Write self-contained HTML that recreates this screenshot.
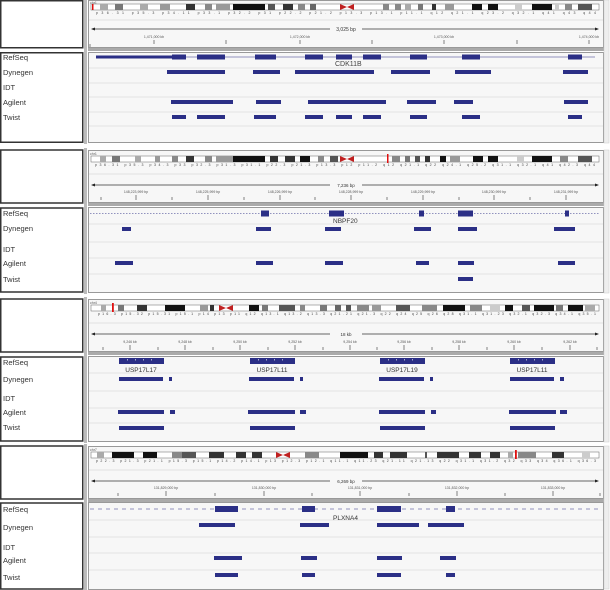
<!DOCTYPE html>
<html><head><meta charset="utf-8"><style>
body{margin:0;background:#fff;}
svg{display:block;font-family:"Liberation Sans",sans-serif;}
.lb{font-size:7.5px;fill:#333;}
.tk{font-size:3.5px;fill:#555;}
.il{font-size:3.5px;fill:#444;}
.b{fill:#2b2f86;}
.rl{stroke:#dcdcdc;stroke-width:0.8;}
</style></head><body>
<svg width="610" height="590" viewBox="0 0 610 590" xmlns="http://www.w3.org/2000/svg">
<rect width="610" height="590" fill="#fff"/>

<!-- ============ PANEL 1 ============ -->
<g>
<rect x="0.75" y="0.75" width="82" height="47" fill="#fff" stroke="#333" stroke-width="1.5"/>
<rect x="0.75" y="52.75" width="82" height="89.5" fill="#fff" stroke="#333" stroke-width="1.5"/>
<rect x="84" y="0" width="3" height="144" fill="#bbb"/>
<rect x="88.5" y="0.5" width="515" height="47" fill="#f7f7f7" stroke="#999"/>
<rect x="88" y="48" width="516" height="3" fill="#aaa"/>
<rect x="88.5" y="52.5" width="515" height="90" fill="#f7f7f7" stroke="#999"/>
<rect x="604" y="0" width="5" height="143" fill="#eee" stroke="#ccc" stroke-width="0.5"/>
<text class="tk" x="90" y="4">chr1</text>
<rect x="91" y="4" width="508" height="6" fill="#fff" stroke="#666" stroke-width="0.5"/>
<rect x="92" y="4" width="1.5" height="6" fill="#e01010"/>
<rect x="100" y="4" width="8" height="6" fill="#aaa"/><rect x="115" y="4" width="8" height="6" fill="#777"/>
<rect x="140" y="4" width="8" height="6" fill="#aaa"/><rect x="160" y="4" width="10" height="6" fill="#999"/>
<rect x="186" y="4" width="9" height="6" fill="#333"/><rect x="205" y="4" width="7" height="6" fill="#888"/>
<rect x="216" y="4" width="14" height="6" fill="#999"/><rect x="233" y="4" width="32" height="6" fill="#111"/>
<rect x="268" y="4" width="7" height="6" fill="#555"/><rect x="283" y="4" width="10" height="6" fill="#333"/>
<rect x="298" y="4" width="7" height="6" fill="#888"/><rect x="310" y="4" width="6" height="6" fill="#666"/>
<polygon points="340,4 347,7 354,4 354,10 347,7 340,10" fill="#c02020"/>
<rect x="383" y="4" width="6" height="6" fill="#888"/><rect x="395" y="4" width="6" height="6" fill="#888"/>
<rect x="405" y="4" width="6" height="6" fill="#aaa"/><rect x="418" y="4" width="5" height="6" fill="#777"/>
<rect x="432" y="4" width="4" height="6" fill="#333"/><rect x="445" y="4" width="9" height="6" fill="#999"/>
<rect x="472" y="4" width="10" height="6" fill="#111"/><rect x="488" y="4" width="10" height="6" fill="#111"/>
<rect x="515" y="4" width="7" height="6" fill="#ccc"/><rect x="532" y="4" width="20" height="6" fill="#111"/>
<rect x="555" y="4" width="4" height="6" fill="#ccc"/><rect x="565" y="4" width="7" height="6" fill="#888"/>
<rect x="578" y="4" width="14" height="6" fill="#555"/>
<text class="il" x="96" y="14" textLength="500" lengthAdjust="spacing">p36.31 p35.3 p34.11 p33.1 p32.2 p31 p22.2 p21.2 p13.3 p13.1 p11.1 q12 q21.1 q23.2 q32.1 q41 q43 q44</text>
<line x1="89" y1="20" x2="603" y2="20" stroke="#e2e2e2"/>
<line x1="92" y1="29" x2="330" y2="29" stroke="#333" stroke-width="0.7"/>
<line x1="362" y1="29" x2="596" y2="29" stroke="#333" stroke-width="0.7"/>
<polygon points="91,29 95,27.5 95,30.5" fill="#222"/><polygon points="599,29 595,27.5 595,30.5" fill="#222"/>
<text x="346" y="31" font-size="5" fill="#333" text-anchor="middle">3,025 bp</text>
<g class="tk" text-anchor="middle"><text x="154" y="38">1,471,000 kb</text><text x="300" y="38">1,472,000 kb</text><text x="444" y="38">1,473,000 kb</text><text x="589" y="38">1,474,000 kb</text></g>
<g stroke="#333" stroke-width="0.6"><line x1="154" y1="40" x2="154" y2="44"/><line x1="226" y1="40" x2="226" y2="44"/><line x1="300" y1="40" x2="300" y2="44"/><line x1="372" y1="40" x2="372" y2="44"/><line x1="444" y1="40" x2="444" y2="44"/><line x1="517" y1="40" x2="517" y2="44"/><line x1="589" y1="40" x2="589" y2="44"/><line x1="90" y1="44" x2="90" y2="47"/></g>
<g class="rl"><line x1="89" y1="68" x2="603" y2="68"/><line x1="89" y1="83" x2="603" y2="83"/><line x1="89" y1="97" x2="603" y2="97"/><line x1="89" y1="112" x2="603" y2="112"/><line x1="89" y1="126" x2="603" y2="126"/></g>
<g class="lb"><text x="3" y="60">RefSeq</text><text x="3" y="75">Dynegen</text><text x="3" y="90">IDT</text><text x="3" y="105">Agilent</text><text x="3" y="120">Twist</text></g>
<line x1="96" y1="57" x2="595" y2="57" stroke="#2b2f86" stroke-width="0.6"/>
<rect class="b" x="96" y="55.5" width="76" height="3"/>
<g class="b"><rect x="172" y="54.5" width="14" height="5"/><rect x="197" y="54.5" width="28" height="5"/><rect x="255" y="54.5" width="21" height="5"/><rect x="305" y="54.5" width="18" height="5"/><rect x="336" y="54.5" width="16" height="5"/><rect x="363" y="54.5" width="18" height="5"/><rect x="410" y="54.5" width="17" height="5"/><rect x="462" y="54.5" width="18" height="5"/><rect x="568" y="54.5" width="14" height="5"/></g>
<text x="335" y="66" font-size="7" fill="#444">CDK11B</text>
<g class="b"><rect x="167" y="70" width="58" height="4"/><rect x="253" y="70" width="27" height="4"/><rect x="295" y="70" width="79" height="4"/><rect x="391" y="70" width="39" height="4"/><rect x="455" y="70" width="36" height="4"/><rect x="563" y="70" width="25" height="4"/>
<rect x="171" y="100" width="62" height="4"/><rect x="256" y="100" width="25" height="4"/><rect x="308" y="100" width="78" height="4"/><rect x="407" y="100" width="29" height="4"/><rect x="454" y="100" width="19" height="4"/><rect x="564" y="100" width="24" height="4"/>
<rect x="172" y="115" width="14" height="4"/><rect x="197" y="115" width="28" height="4"/><rect x="254" y="115" width="22" height="4"/><rect x="305" y="115" width="18" height="4"/><rect x="336" y="115" width="16" height="4"/><rect x="363" y="115" width="18" height="4"/><rect x="410" y="115" width="17" height="4"/><rect x="462" y="115" width="18" height="4"/><rect x="568" y="115" width="14" height="4"/></g>
</g>

<!-- ============ PANEL 2 ============ -->
<g>
<rect x="0.75" y="150" width="82" height="53" fill="#fff" stroke="#333" stroke-width="1.5"/>
<rect x="0.75" y="208" width="82" height="84" fill="#fff" stroke="#333" stroke-width="1.5"/>
<rect x="84" y="148" width="3" height="146" fill="#bbb"/>
<rect x="88.5" y="150.5" width="515" height="52" fill="#f7f7f7" stroke="#999"/>
<rect x="88" y="203" width="516" height="3" fill="#aaa"/>
<rect x="88.5" y="207.5" width="515" height="85" fill="#f7f7f7" stroke="#999"/>
<rect x="604" y="150" width="5" height="143" fill="#eee" stroke="#ccc" stroke-width="0.5"/>
<text class="tk" x="90" y="155">chr1</text>
<rect x="91" y="156" width="508" height="6" fill="#fff" stroke="#666" stroke-width="0.5"/>
<rect x="100" y="156" width="6" height="6" fill="#aaa"/><rect x="112" y="156" width="8" height="6" fill="#777"/><rect x="135" y="156" width="6" height="6" fill="#aaa"/><rect x="155" y="156" width="5" height="6" fill="#999"/><rect x="172" y="156" width="6" height="6" fill="#888"/><rect x="186" y="156" width="8" height="6" fill="#333"/><rect x="205" y="156" width="7" height="6" fill="#888"/><rect x="216" y="156" width="17" height="6" fill="#999"/><rect x="233" y="156" width="32" height="6" fill="#111"/><rect x="270" y="156" width="8" height="6" fill="#333"/><rect x="285" y="156" width="10" height="6" fill="#333"/><rect x="300" y="156" width="10" height="6" fill="#111"/><rect x="318" y="156" width="6" height="6" fill="#888"/><rect x="330" y="156" width="8" height="6" fill="#555"/>
<polygon points="340,156 347,159 354,156 354,162 347,159 340,162" fill="#c02020"/>
<rect x="387" y="154" width="1.5" height="9" fill="#e01010"/><rect x="392" y="156" width="8" height="6" fill="#888"/><rect x="405" y="156" width="5" height="6" fill="#777"/><rect x="415" y="156" width="5" height="6" fill="#555"/><rect x="425" y="156" width="5" height="6" fill="#333"/><rect x="440" y="156" width="6" height="6" fill="#111"/><rect x="450" y="156" width="10" height="6" fill="#999"/><rect x="473" y="156" width="10" height="6" fill="#111"/><rect x="488" y="156" width="10" height="6" fill="#111"/><rect x="517" y="156" width="7" height="6" fill="#ccc"/><rect x="532" y="156" width="20" height="6" fill="#111"/><rect x="560" y="156" width="8" height="6" fill="#888"/><rect x="578" y="156" width="14" height="6" fill="#555"/>
<text class="il" x="95" y="166" textLength="500" lengthAdjust="spacing">p36.31 p35.3 p34.3 p33 p32.3 p31.3 p31.1 p22.3 p21.3 p13.3 p12 p11.2 q12 q21.1 q22 q24.1 q25.2 q31.1 q32.1 q41 q42.3 q44</text>
<line x1="89" y1="174" x2="603" y2="174" stroke="#e2e2e2"/>
<line x1="92" y1="185" x2="330" y2="185" stroke="#333" stroke-width="0.7"/><line x1="362" y1="185" x2="596" y2="185" stroke="#333" stroke-width="0.7"/>
<polygon points="91,185 95,183.5 95,186.5" fill="#222"/><polygon points="599,185 595,183.5 595,186.5" fill="#222"/>
<text x="346" y="187" font-size="4.5" fill="#333" text-anchor="middle">7,236 bp</text>
<g class="tk" text-anchor="middle"><text x="136" y="193">148,223,999 bp</text><text x="208" y="193">148,225,999 bp</text><text x="280" y="193">148,226,999 bp</text><text x="351" y="193">148,228,999 bp</text><text x="423" y="193">148,229,999 bp</text><text x="494" y="193">148,230,999 bp</text><text x="566" y="193">148,231,999 bp</text></g>
<g stroke="#333" stroke-width="0.6"><line x1="101" y1="197" x2="101" y2="200"/><line x1="136" y1="195" x2="136" y2="200"/><line x1="172" y1="197" x2="172" y2="200"/><line x1="208" y1="195" x2="208" y2="200"/><line x1="244" y1="197" x2="244" y2="200"/><line x1="280" y1="195" x2="280" y2="200"/><line x1="315" y1="197" x2="315" y2="200"/><line x1="351" y1="195" x2="351" y2="200"/><line x1="387" y1="197" x2="387" y2="200"/><line x1="423" y1="195" x2="423" y2="200"/><line x1="459" y1="197" x2="459" y2="200"/><line x1="494" y1="195" x2="494" y2="200"/><line x1="530" y1="197" x2="530" y2="200"/><line x1="566" y1="195" x2="566" y2="200"/></g>
<g class="rl"><line x1="89" y1="224" x2="603" y2="224"/><line x1="89" y1="242" x2="603" y2="242"/><line x1="89" y1="258" x2="603" y2="258"/><line x1="89" y1="274" x2="603" y2="274"/></g>
<g class="lb"><text x="3" y="216">RefSeq</text><text x="3" y="231">Dynegen</text><text x="3" y="252">IDT</text><text x="3" y="266">Agilent</text><text x="3" y="282">Twist</text></g>
<line x1="90" y1="213.5" x2="600" y2="213.5" stroke="#2b2f86" stroke-width="0.6" stroke-dasharray="1.5,1.5"/>
<g class="b"><rect x="261" y="210.5" width="8" height="6"/><rect x="329" y="210.5" width="15" height="6"/><rect x="419" y="210.5" width="5" height="6"/><rect x="458" y="210.5" width="15" height="6"/><rect x="565" y="210.5" width="4" height="6"/></g>
<text x="333" y="223" font-size="6.5" fill="#333">NBPF20</text>
<g class="b"><rect x="122" y="227" width="9" height="4"/><rect x="256" y="227" width="15" height="4"/><rect x="325" y="227" width="16" height="4"/><rect x="414" y="227" width="17" height="4"/><rect x="458" y="227" width="19" height="4"/><rect x="554" y="227" width="21" height="4"/>
<rect x="115" y="261" width="18" height="4"/><rect x="256" y="261" width="17" height="4"/><rect x="325" y="261" width="18" height="4"/><rect x="416" y="261" width="13" height="4"/><rect x="458" y="261" width="16" height="4"/><rect x="558" y="261" width="17" height="4"/>
<rect x="458" y="277" width="15" height="4"/></g>
</g>

<!-- ============ PANEL 3 ============ -->
<g>
<rect x="0.75" y="299" width="82" height="53" fill="#fff" stroke="#333" stroke-width="1.5"/>
<rect x="0.75" y="357" width="82" height="84" fill="#fff" stroke="#333" stroke-width="1.5"/>
<rect x="84" y="297" width="3" height="146" fill="#bbb"/>
<rect x="88.5" y="299.5" width="515" height="52" fill="#f7f7f7" stroke="#999"/>
<rect x="88" y="352" width="516" height="3" fill="#aaa"/>
<rect x="88.5" y="356.5" width="515" height="85" fill="#f7f7f7" stroke="#999"/>
<rect x="604" y="299" width="5" height="143" fill="#eee" stroke="#ccc" stroke-width="0.5"/>
<text class="tk" x="90" y="304">chr4</text>
<rect x="91" y="305" width="508" height="6" fill="#fff" stroke="#666" stroke-width="0.5"/>
<rect x="101" y="305" width="5" height="6" fill="#aaa"/><rect x="112" y="303" width="1.8" height="9" fill="#e01010"/><rect x="118" y="305" width="6" height="6" fill="#777"/><rect x="137" y="305" width="10" height="6" fill="#333"/><rect x="165" y="305" width="20" height="6" fill="#111"/><rect x="200" y="305" width="8" height="6" fill="#999"/><rect x="210" y="305" width="4" height="6" fill="#333"/>
<polygon points="219,305 226,308 233,305 233,311 226,308 219,311" fill="#c02020"/>
<rect x="249" y="305" width="10" height="6" fill="#111"/><rect x="262" y="305" width="6" height="6" fill="#777"/><rect x="279" y="305" width="16" height="6" fill="#555"/><rect x="300" y="305" width="5" height="6" fill="#888"/><rect x="320" y="305" width="7" height="6" fill="#777"/><rect x="335" y="305" width="6" height="6" fill="#666"/><rect x="346" y="305" width="5" height="6" fill="#555"/><rect x="357" y="305" width="12" height="6" fill="#888"/><rect x="372" y="305" width="9" height="6" fill="#999"/><rect x="396" y="305" width="14" height="6" fill="#555"/><rect x="422" y="305" width="15" height="6" fill="#888"/><rect x="443" y="305" width="22" height="6" fill="#111"/><rect x="470" y="305" width="12" height="6" fill="#888"/><rect x="490" y="305" width="10" height="6" fill="#ccc"/><rect x="505" y="305" width="8" height="6" fill="#111"/><rect x="522" y="305" width="8" height="6" fill="#555"/><rect x="534" y="305" width="20" height="6" fill="#111"/><rect x="556" y="305" width="7" height="6" fill="#777"/><rect x="568" y="305" width="15" height="6" fill="#111"/><rect x="585" y="305" width="10" height="6" fill="#aaa"/>
<text class="il" x="98" y="315" textLength="498" lengthAdjust="spacing">p16.3 p15.32 p15.31 p15.1 p14 p13 p11 q12 q13.1 q13.2 q13.3 q21.21 q21.3 q22 q24 q25 q26 q28 q31.1 q31.23 q32.1 q32.3 q34.1 q35.1</text>
<line x1="89" y1="323" x2="603" y2="323" stroke="#e2e2e2"/>
<line x1="92" y1="334" x2="330" y2="334" stroke="#333" stroke-width="0.7"/><line x1="362" y1="334" x2="596" y2="334" stroke="#333" stroke-width="0.7"/>
<polygon points="91,334 95,332.5 95,335.5" fill="#222"/><polygon points="599,334 595,332.5 595,335.5" fill="#222"/>
<text x="346" y="336" font-size="4.5" fill="#333" text-anchor="middle">18 kb</text>
<g class="tk" text-anchor="middle"><text x="130" y="343">9,246 kb</text><text x="185" y="343">9,248 kb</text><text x="240" y="343">9,250 kb</text><text x="295" y="343">9,252 kb</text><text x="350" y="343">9,254 kb</text><text x="404" y="343">9,256 kb</text><text x="459" y="343">9,258 kb</text><text x="514" y="343">9,260 kb</text><text x="570" y="343">9,262 kb</text></g>
<g stroke="#333" stroke-width="0.6"><line x1="103" y1="347" x2="103" y2="350"/><line x1="130" y1="345" x2="130" y2="350"/><line x1="158" y1="347" x2="158" y2="350"/><line x1="185" y1="345" x2="185" y2="350"/><line x1="213" y1="347" x2="213" y2="350"/><line x1="240" y1="345" x2="240" y2="350"/><line x1="268" y1="347" x2="268" y2="350"/><line x1="295" y1="345" x2="295" y2="350"/><line x1="323" y1="347" x2="323" y2="350"/><line x1="350" y1="345" x2="350" y2="350"/><line x1="377" y1="347" x2="377" y2="350"/><line x1="404" y1="345" x2="404" y2="350"/><line x1="432" y1="347" x2="432" y2="350"/><line x1="459" y1="345" x2="459" y2="350"/><line x1="487" y1="347" x2="487" y2="350"/><line x1="514" y1="345" x2="514" y2="350"/><line x1="542" y1="347" x2="542" y2="350"/><line x1="570" y1="345" x2="570" y2="350"/><line x1="597" y1="347" x2="597" y2="350"/></g>
<g class="rl"><line x1="89" y1="373" x2="603" y2="373"/><line x1="89" y1="391" x2="603" y2="391"/><line x1="89" y1="408" x2="603" y2="408"/><line x1="89" y1="423" x2="603" y2="423"/></g>
<g class="lb"><text x="3" y="365">RefSeq</text><text x="3" y="382">Dynegen</text><text x="3" y="401">IDT</text><text x="3" y="415">Agilent</text><text x="3" y="430">Twist</text></g>
<g class="b"><rect x="119" y="358" width="45" height="6"/><rect x="250" y="358" width="45" height="6"/><rect x="380" y="358" width="45" height="6"/><rect x="510" y="358" width="45" height="6"/></g>
<g fill="#fff"><rect x="127" y="359" width="0.6" height="1.5"/><rect x="135" y="359" width="0.6" height="1.5"/><rect x="143" y="359" width="0.6" height="1.5"/><rect x="151" y="359" width="0.6" height="1.5"/><rect x="258" y="359" width="0.6" height="1.5"/><rect x="266" y="359" width="0.6" height="1.5"/><rect x="274" y="359" width="0.6" height="1.5"/><rect x="282" y="359" width="0.6" height="1.5"/><rect x="388" y="359" width="0.6" height="1.5"/><rect x="396" y="359" width="0.6" height="1.5"/><rect x="404" y="359" width="0.6" height="1.5"/><rect x="412" y="359" width="0.6" height="1.5"/><rect x="518" y="359" width="0.6" height="1.5"/><rect x="526" y="359" width="0.6" height="1.5"/><rect x="534" y="359" width="0.6" height="1.5"/><rect x="542" y="359" width="0.6" height="1.5"/></g>
<g font-size="6.5" fill="#333" text-anchor="middle"><text x="141" y="372">USP17L17</text><text x="272" y="372">USP17L11</text><text x="402" y="372">USP17L19</text><text x="532" y="372">USP17L11</text></g>
<g class="b"><rect x="119" y="377" width="44" height="4"/><rect x="169" y="377" width="3" height="4"/><rect x="249" y="377" width="45" height="4"/><rect x="300" y="377" width="3" height="4"/><rect x="379" y="377" width="45" height="4"/><rect x="430" y="377" width="3" height="4"/><rect x="510" y="377" width="44" height="4"/><rect x="560" y="377" width="4" height="4"/>
<rect x="118" y="410" width="46" height="4"/><rect x="170" y="410" width="5" height="4"/><rect x="248" y="410" width="47" height="4"/><rect x="300" y="410" width="6" height="4"/><rect x="379" y="410" width="46" height="4"/><rect x="431" y="410" width="5" height="4"/><rect x="509" y="410" width="47" height="4"/><rect x="560" y="410" width="7" height="4"/>
<rect x="119" y="426" width="45" height="4"/><rect x="250" y="426" width="45" height="4"/><rect x="380" y="426" width="45" height="4"/><rect x="510" y="426" width="45" height="4"/></g>
</g>

<!-- ============ PANEL 4 ============ -->
<g>
<rect x="0.75" y="446" width="82" height="53" fill="#fff" stroke="#333" stroke-width="1.5"/>
<rect x="0.75" y="503" width="82" height="86" fill="#fff" stroke="#333" stroke-width="1.5"/>
<rect x="84" y="444" width="3" height="146" fill="#bbb"/>
<rect x="88.5" y="446.5" width="515" height="52" fill="#f7f7f7" stroke="#999"/>
<rect x="88" y="499" width="516" height="3" fill="#aaa"/>
<rect x="88.5" y="502.5" width="515" height="87" fill="#f7f7f7" stroke="#999"/>
<rect x="604" y="446" width="5" height="143" fill="#eee" stroke="#ccc" stroke-width="0.5"/>
<text class="tk" x="90" y="451">chr7</text>
<rect x="91" y="452" width="508" height="6" fill="#fff" stroke="#666" stroke-width="0.5"/>
<rect x="97" y="452" width="7" height="6" fill="#aaa"/><rect x="112" y="452" width="22" height="6" fill="#111"/><rect x="143" y="452" width="14" height="6" fill="#111"/><rect x="172" y="452" width="10" height="6" fill="#888"/><rect x="182" y="452" width="14" height="6" fill="#555"/><rect x="209" y="452" width="15" height="6" fill="#333"/><rect x="236" y="452" width="10" height="6" fill="#333"/><rect x="252" y="452" width="10" height="6" fill="#333"/>
<polygon points="276,452 283,455 290,452 290,458 283,455 276,458" fill="#c02020"/>
<rect x="305" y="452" width="14" height="6" fill="#888"/><rect x="340" y="452" width="28" height="6" fill="#111"/><rect x="374" y="452" width="9" height="6" fill="#333"/><rect x="390" y="452" width="17" height="6" fill="#333"/><rect x="425" y="452" width="2" height="6" fill="#555"/><rect x="437" y="452" width="22" height="6" fill="#333"/><rect x="469" y="452" width="12" height="6" fill="#333"/><rect x="490" y="452" width="10" height="6" fill="#333"/><rect x="508" y="452" width="5" height="6" fill="#aaa"/><rect x="515" y="450" width="1.8" height="9" fill="#e01010"/><rect x="518" y="452" width="18" height="6" fill="#888"/><rect x="552" y="452" width="12" height="6" fill="#333"/><rect x="582" y="452" width="8" height="6" fill="#ccc"/>
<text class="il" x="96" y="462" textLength="500" lengthAdjust="spacing">p22.3 p21.3 p21.1 p15.3 p15.1 p14.2 p14.1 p13 p12.3 p12.1 q11.1 q11.23 q21.11 q21.13 q22 q31.1 q31.2 q32 q33 q34 q36.1 q36.3</text>
<line x1="89" y1="470" x2="603" y2="470" stroke="#e2e2e2"/>
<line x1="92" y1="481" x2="330" y2="481" stroke="#333" stroke-width="0.7"/><line x1="362" y1="481" x2="596" y2="481" stroke="#333" stroke-width="0.7"/>
<polygon points="91,481 95,479.5 95,482.5" fill="#222"/><polygon points="599,481 595,479.5 595,482.5" fill="#222"/>
<text x="346" y="483" font-size="4.5" fill="#333" text-anchor="middle">6,269 bp</text>
<g class="tk" text-anchor="middle"><text x="166" y="489">131,829,000 bp</text><text x="264" y="489">131,830,000 bp</text><text x="360" y="489">131,831,000 bp</text><text x="457" y="489">131,832,000 bp</text><text x="553" y="489">131,833,000 bp</text></g>
<g stroke="#333" stroke-width="0.6"><line x1="118" y1="493" x2="118" y2="496"/><line x1="166" y1="491" x2="166" y2="496"/><line x1="215" y1="493" x2="215" y2="496"/><line x1="264" y1="491" x2="264" y2="496"/><line x1="312" y1="493" x2="312" y2="496"/><line x1="360" y1="491" x2="360" y2="496"/><line x1="409" y1="493" x2="409" y2="496"/><line x1="457" y1="491" x2="457" y2="496"/><line x1="505" y1="493" x2="505" y2="496"/><line x1="553" y1="491" x2="553" y2="496"/><line x1="600" y1="493" x2="600" y2="496"/></g>
<g class="rl"><line x1="89" y1="520" x2="603" y2="520"/><line x1="89" y1="537" x2="603" y2="537"/><line x1="89" y1="553" x2="603" y2="553"/><line x1="89" y1="570" x2="603" y2="570"/></g>
<g class="lb"><text x="3" y="512">RefSeq</text><text x="3" y="530">Dynegen</text><text x="3" y="550">IDT</text><text x="3" y="563">Agilent</text><text x="3" y="580">Twist</text></g>
<line x1="90" y1="509" x2="600" y2="509" stroke="#2b2f86" stroke-width="0.6" stroke-dasharray="4,4"/>
<g class="b"><rect x="215" y="506" width="23" height="6"/><rect x="302" y="506" width="13" height="6"/><rect x="377" y="506" width="24" height="6"/><rect x="446" y="506" width="9" height="6"/></g>
<text x="333" y="520" font-size="6.5" fill="#333">PLXNA4</text>
<g class="b"><rect x="199" y="523" width="36" height="4"/><rect x="300" y="523" width="29" height="4"/><rect x="377" y="523" width="42" height="4"/><rect x="428" y="523" width="36" height="4"/>
<rect x="214" y="556" width="28" height="4"/><rect x="301" y="556" width="16" height="4"/><rect x="377" y="556" width="25" height="4"/><rect x="440" y="556" width="16" height="4"/>
<rect x="215" y="573" width="23" height="4"/><rect x="302" y="573" width="13" height="4"/><rect x="377" y="573" width="24" height="4"/><rect x="446" y="573" width="9" height="4"/></g>
</g>
</svg>
</body></html>
